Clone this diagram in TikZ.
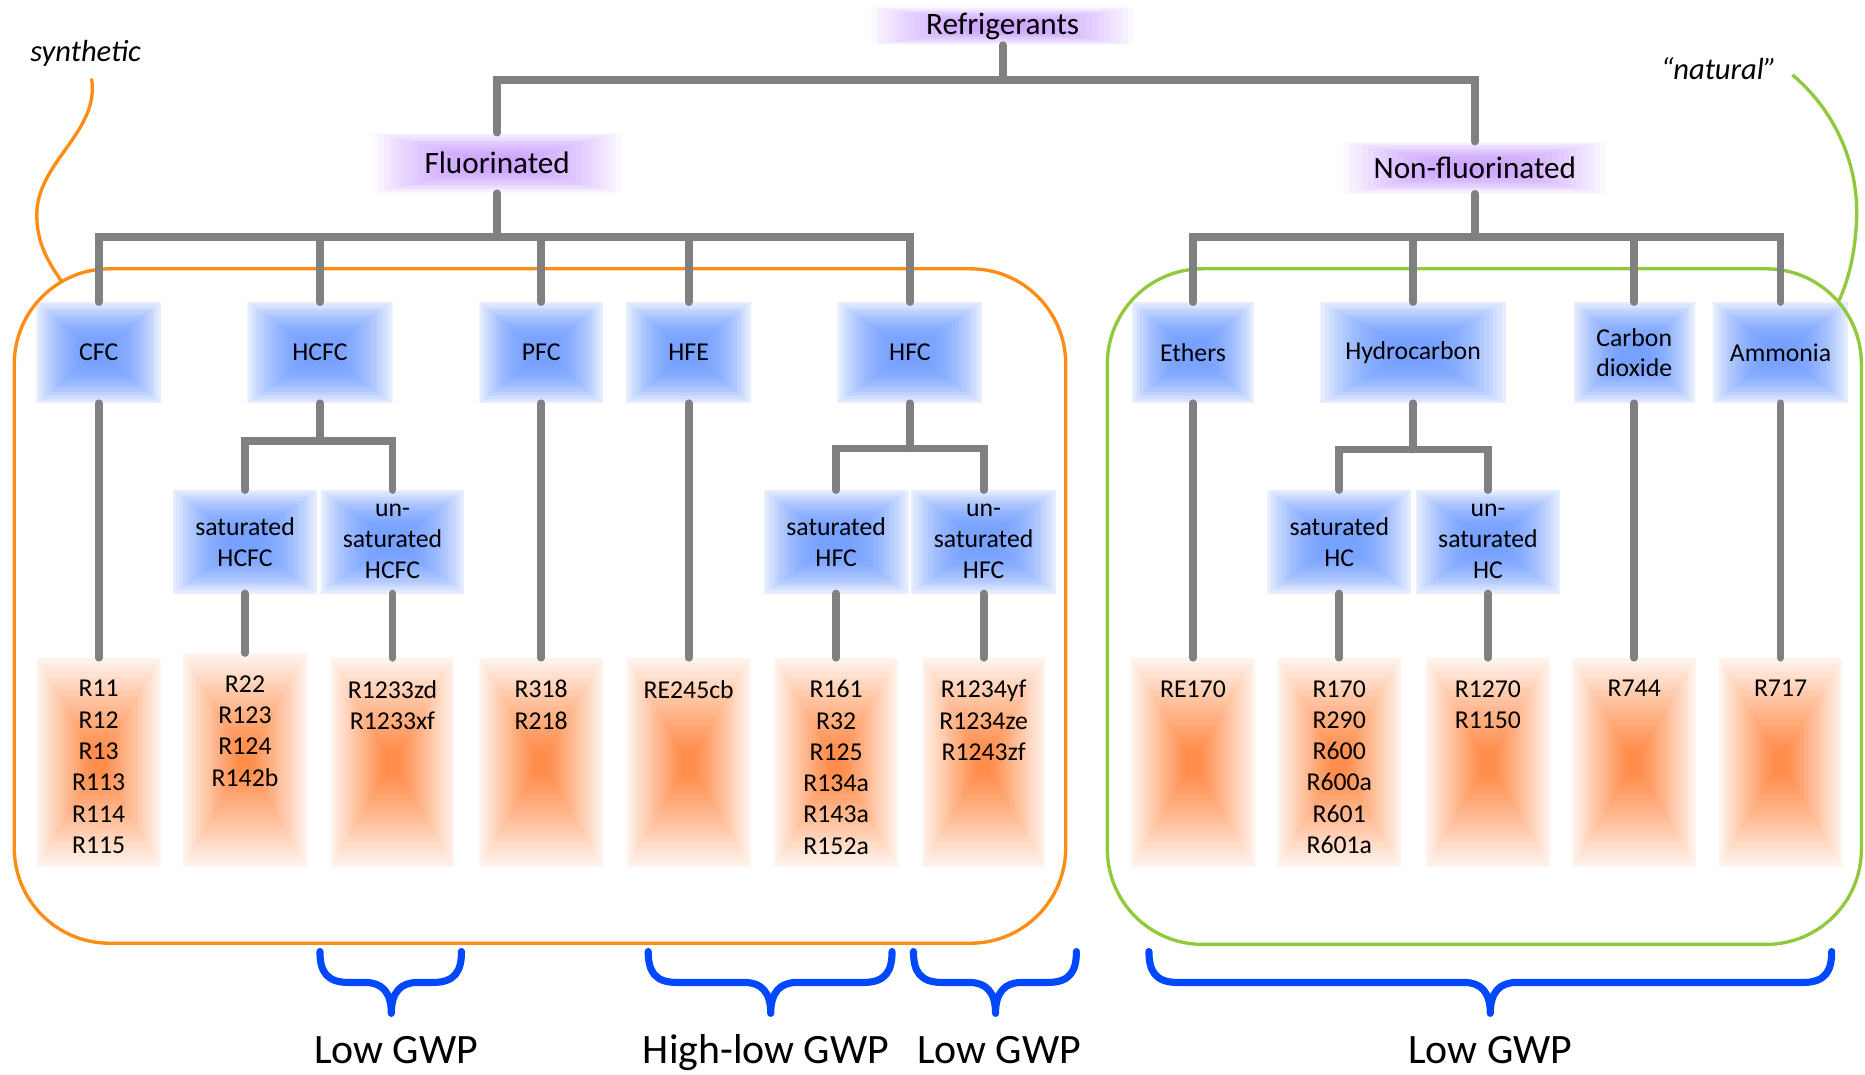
\documentclass[tikz,border=0pt]{standalone}
\usepackage{fontspec}
\setmainfont{Carlito}
\usetikzlibrary{calc}
\definecolor{glblue}{RGB}{60,120,255}
\definecolor{glorange}{RGB}{255,118,40}
\definecolor{glpurple}{RGB}{175,110,255}
\definecolor{linegray}{RGB}{128,128,128}
\definecolor{synorange}{RGB}{255,140,20}
\definecolor{natgreen}{RGB}{146,200,60}
\definecolor{braceblue}{RGB}{0,72,255}
\tikzset{
  conn/.style={draw=linegray, line width=1.85pt, line cap=round},
  wh/.style 2 args={minimum width=#1*0.01cm, minimum height=#2*0.01cm},
  gbox/.style n args={4}{inner sep=0pt, outer sep=0pt, align=center, fill=white,
    path picture={\foreach \i in {0,...,19} {\pgfmathsetmacro\t{0.046*\i}\pgfmathsetmacro\c{#2+(#3-#2)*(1-(1-\i/20)^#4)}\fill[#1!\c!white] ($(path picture bounding box.south west)!\t!(path picture bounding box.center)$) rectangle ($(path picture bounding box.north east)!\t!(path picture bounding box.center)$);}}},
  pbox/.style={gbox={glpurple}{5}{62}{1.8}, font=\fontsize{7.45pt}{9pt}\selectfont},
  bbox/.style={gbox={glblue}{13}{70}{2.2}, font=\fontsize{6.15pt}{7.4pt}\selectfont},
  obox/.style={gbox={glorange}{9}{86}{1.1}},
  otext/.style={anchor=north, inner sep=0pt, outer sep=0pt, align=center, font=\fontsize{6.15pt}{7.48pt}\selectfont},
  gbrace/.style={draw=braceblue, line width=1.7pt, line cap=round, line join=round},
  gwp/.style={anchor=base, inner sep=0pt, font=\fontsize{10pt}{12pt}\selectfont},
  tag/.style={inner sep=0pt, font=\fontsize{7.3pt}{9pt}\selectfont\itshape},
  frame/.style={line width=0.8pt, rounded corners=0.8cm},
}
\newcommand\gwpbrace[3]{\draw[gbrace] (#1,800) .. controls (#1,816) and ({#1+5},826) .. ({#1+24},826) -- ({#2-22},826) .. controls ({#2-8},826) and (#2,834) .. (#2,852) .. controls (#2,834) and ({#2+8},826) .. ({#2+22},826) -- ({#3-24},826) .. controls ({#3-5},826) and (#3,816) .. (#3,800);}
\begin{document}
\begin{tikzpicture}[x=0.01cm,y=-0.01cm]
\useasboundingbox (0,0) rectangle (1568,903);
% top level
\node[pbox, wh={221}{32}] (ref) at (843,22) {Refrigerants};
\node[pbox, wh={210}{51}] (fluor) at (418,137) {Fluorinated};
\node[pbox, wh={221}{44}] (nonf) at (1240,141) {Non-fluorinated};
% level 2
\node[bbox, wh={105}{85}] (cfc) at (83,296.5) {CFC};
\node[bbox, wh={122}{85}] (hcfc) at (269,296.5) {HCFC};
\node[bbox, wh={104}{85}] (pfc) at (455,296.5) {PFC};
\node[bbox, wh={105}{85}] (hfe) at (579,296.5) {HFE};
\node[bbox, wh={122}{85}] (hfc) at (765,296.5) {HFC};
\node[bbox, wh={103}{85}] (eth) at (1003,296.5) {Ethers};
\node[bbox, wh={156}{85}] (hyd) at (1188,296.5) {Hydrocarbon};
\node[bbox, wh={102}{85}] (co2) at (1374,296.5) {Carbon\\dioxide};
\node[bbox, wh={114}{85}] (amm) at (1497,296.5) {Ammonia};
% level 3
\node[bbox, wh={121}{87}] (shcfc) at (206,455.5) {saturated\\HCFC};
\node[bbox, wh={121}{87}] (uhcfc) at (330,455.5) {un-\\saturated\\HCFC};
\node[bbox, wh={122}{87}] (shfc) at (703,455.5) {saturated\\HFC};
\node[bbox, wh={122}{87}] (uhfc) at (827,455.5) {un-\\saturated\\HFC};
\node[bbox, wh={121}{87}] (shc) at (1126,455.5) {saturated\\HC};
\node[bbox, wh={121}{87}] (uhc) at (1251,455.5) {un-\\saturated\\HC};
% bottom boxes
\node[obox, wh={104}{176}] (ocfc) at (83,641) {};
\node[obox, wh={104}{180}] (oshcfc) at (206,639) {};
\node[obox, wh={104}{176}] (ouhcfc) at (330,641) {};
\node[obox, wh={104}{176}] (opfc) at (455,641) {};
\node[obox, wh={104}{176}] (ohfe) at (579,641) {};
\node[obox, wh={104}{176}] (oshfc) at (703,641) {};
\node[obox, wh={104}{176}] (ouhfc) at (827,641) {};
\node[obox, wh={104}{176}] (oeth) at (1003,641) {};
\node[obox, wh={104}{176}] (oshc) at (1126,641) {};
\node[obox, wh={104}{176}] (ouhc) at (1251,641) {};
\node[obox, wh={104}{176}] (oco2) at (1374,641) {};
\node[obox, wh={104}{176}] (oamm) at (1497,641) {};
\node[otext] (tcfc) at (83,572) {R11\\R12\\R13\\R113\\R114\\R115};
\node[otext] (tshcfc) at (206,568) {R22\\R123\\R124\\R142b};
\node[otext] (tuhcfc) at (330,572) {R1233zd\\R1233xf};
\node[otext] (tpfc) at (455,572) {R318\\R218};
\node[otext] (thfe) at (579,572) {RE245cb};
\node[otext] (tshfc) at (703,572) {R161\\R32\\R125\\R134a\\R143a\\R152a};
\node[otext] (tuhfc) at (827,572) {R1234yf\\R1234ze\\R1243zf};
\node[otext] (teth) at (1003,572) {RE170};
\node[otext] (tshc) at (1126,572) {R170\\R290\\R600\\R600a\\R601\\R601a};
\node[otext] (tuhc) at (1251,572) {R1270\\R1150};
\node[otext] (tco2) at (1374,572) {R744};
\node[otext] (tamm) at (1497,572) {R717};
% frames
\draw[frame, synorange] (12,226) rectangle (896,793);
\draw[frame, natgreen] (931,226) rectangle (1565,794);
\draw[synorange, line width=0.8pt] (77,66) .. controls (84,110) and (33,135) .. (31,178) .. controls (30,205) and (42,222) .. (52,237);
\draw[natgreen, line width=0.8pt] (1507,63) .. controls (1545,95) and (1562,140) .. (1561,182) .. controls (1560,215) and (1553,238) .. (1546,253);
\node[tag] (syn) at (72,45) {synthetic};
\node[tag] (nat) at (1445,58) {“natural”};
% connectors
\coordinate (jR) at (843,67);
\coordinate (jF) at (418,199);
\coordinate (jN) at (1240,199);
\coordinate (jH) at (269,371);
\coordinate (jC) at (765,377);
\coordinate (jY) at (1188,378);
\draw[conn] (ref.south) -- (jR);
\draw[conn] (jR) -| (fluor.north);
\draw[conn] (jR) -| (nonf.north);
\draw[conn] (fluor.south) -- (jF);
\foreach \n in {cfc,hcfc,pfc,hfe,hfc} {\draw[conn] (jF) -| (\n.north);}
\draw[conn] (nonf.south) -- (jN);
\foreach \n in {eth,hyd,co2,amm} {\draw[conn] (jN) -| (\n.north);}
\draw[conn] (hcfc.south) -- (jH);
\draw[conn] (jH) -| (shcfc.north);
\draw[conn] (jH) -| (uhcfc.north);
\draw[conn] (hfc.south) -- (jC);
\draw[conn] (jC) -| (shfc.north);
\draw[conn] (jC) -| (uhfc.north);
\draw[conn] (hyd.south) -- (jY);
\draw[conn] (jY) -| (shc.north);
\draw[conn] (jY) -| (uhc.north);
\foreach \a/\b in {cfc/ocfc,shcfc/oshcfc,uhcfc/ouhcfc,pfc/opfc,hfe/ohfe,shfc/oshfc,uhfc/ouhfc,eth/oeth,shc/oshc,uhc/ouhc,co2/oco2,amm/oamm} {\draw[conn] (\a.south) -- (\b.north);}
% braces and labels
\gwpbrace{269}{329}{388}
\gwpbrace{545}{648}{750}
\gwpbrace{768}{837}{905}
\gwpbrace{966}{1253}{1540}
\node[gwp] (g1) at (333,894) {Low GWP};
\node[gwp] (g2) at (644,894) {High-low GWP};
\node[gwp] (g3) at (840,894) {Low GWP};
\node[gwp] (g4) at (1253,894) {Low GWP};
\end{tikzpicture}
\end{document}
